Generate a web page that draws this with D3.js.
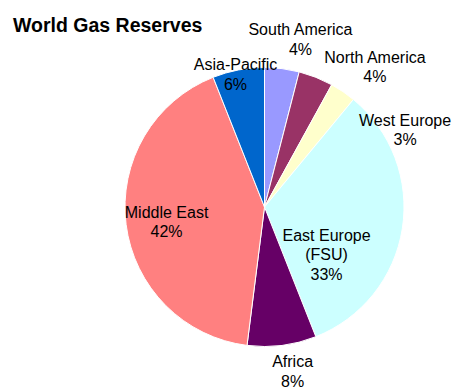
<!DOCTYPE html>
<html>
<head>
<meta charset="utf-8">
<script src="https://cdn.jsdelivr.net/npm/d3@7"></script>
<style>
  html, body { margin: 0; padding: 0; background: #fff; }
  svg { display: block; }
  text { font-family: "Liberation Sans", Arial, sans-serif; }
</style>
</head>
<body>
<svg id="chart" width="455" height="390"></svg>
<script>
// Regions and their share of world gas reserves (%), clockwise from 12 o'clock
const regions = ["South America", "North America", "West Europe", "East Europe (FSU)", "Africa", "Middle East", "Asia-Pacific"];
const shares  = [4, 4, 3, 33, 8, 42, 6];
// Label lines for each region (the percentage is appended as the last line)
const labelLines = [
  ["South America"],
  ["North America"],
  ["West Europe"],
  ["East Europe", "(FSU)"],
  ["Africa"],
  ["Middle East"],
  ["Asia-Pacific"]
];
const colors = ["#9999FF", "#993366", "#FFFFCC", "#CCFFFF", "#660066", "#FF8080", "#0066CC"];

// Label placement: polar angle (deg, clockwise from top) and distance in pie radii
const labelPolar = [
  [12.1, 1.23],
  [38.2, 1.28],
  [61.2, 1.15],
  [127.4, 0.56],
  [170.3, 1.195],
  [261.4, 0.71],
  [347.7, 0.975]
];

const svg = d3.select("#chart");
const cx = 264.5, cy = 207, R = 139.5;
const lineH = 19.5, capH = 11.5;

svg.append("text")
  .attr("x", 13).attr("y", 32.3)
  .attr("font-size", 19.5).attr("font-weight", "bold")
  .attr("fill", "#000")
  .text("World Gas Reserves");

const data = regions.map((r, i) => ({ region: r, value: shares[i], color: colors[i], lines: labelLines[i], polar: labelPolar[i] }));

const pie = d3.pie().sort(null).value(d => d.value).startAngle(0).endAngle(2 * Math.PI);
const arc = d3.arc().innerRadius(0).outerRadius(R);
const arcs = pie(data);

const g = svg.append("g").attr("transform", `translate(${cx},${cy})`);

g.selectAll("path.slice")
  .data(arcs)
  .join("path")
  .attr("class", "slice")
  .attr("d", arc)
  .attr("fill", d => d.data.color)
  .attr("stroke", "#fff")
  .attr("stroke-width", 1);

// Data labels: name lines followed by the percentage
const fmt = d3.format(".0f");
arcs.forEach(a => {
  const lines = a.data.lines.concat([fmt(a.data.value) + "%"]);
  const ang = a.data.polar[0] * Math.PI / 180;
  const dist = a.data.polar[1] * R;
  const x = Math.sin(ang) * dist;
  const midY = -Math.cos(ang) * dist;
  const n = lines.length;
  const b1 = midY - ((n - 1) * lineH - capH) / 2;
  const t = g.append("text")
    .attr("text-anchor", "middle")
    .attr("font-size", 16)
    .attr("fill", "#000");
  lines.forEach((ln, i) => {
    t.append("tspan").attr("x", x).attr("y", b1 + i * lineH).text(ln);
  });
});
</script>
</body>
</html>
